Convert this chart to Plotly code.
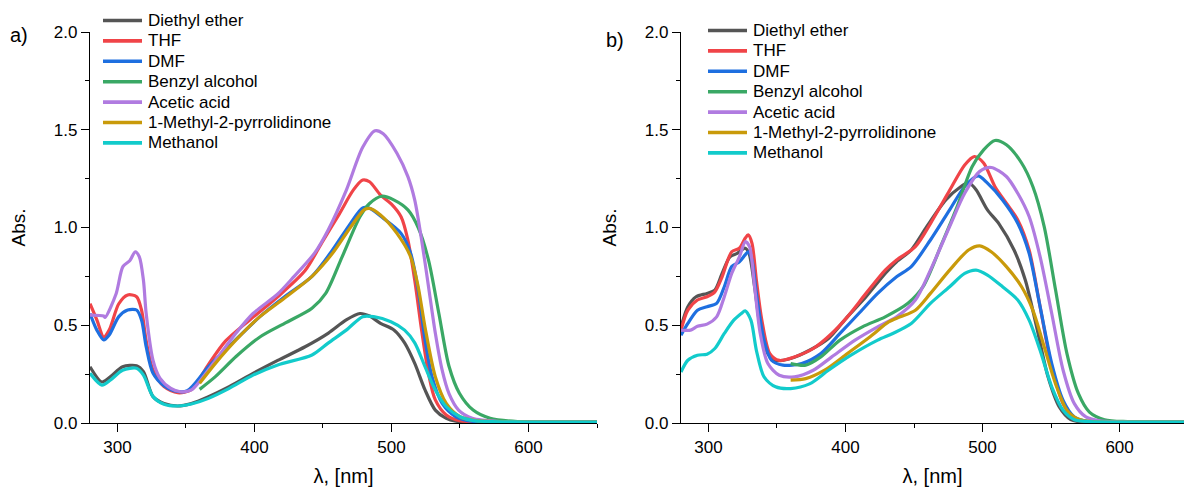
import plotly.graph_objects as go

# ---------------- data: panel a) ----------------
a_ether_x = [280, 288.7, 295, 303.8, 314, 319, 326, 334, 344, 354, 366.5, 381.6, 399, 417, 437, 454, 467, 477, 484, 492, 502, 509.6, 517, 524.5, 532, 540, 547, 560, 600, 650]
a_ether_y = [0.288, 0.21, 0.237, 0.288, 0.293, 0.263, 0.135, 0.10, 0.087, 0.10, 0.135, 0.186, 0.254, 0.32, 0.39, 0.46, 0.527, 0.56, 0.547, 0.51, 0.475, 0.41, 0.305, 0.169, 0.066, 0.024, 0.01, 0.005, 0.004, 0.004]

a_thf_x = [280, 285, 290, 294, 301, 307.5, 314, 317.6, 321, 326, 334, 344, 354, 366.5, 379, 396.6, 417, 437, 449, 462, 472, 479, 484, 492, 500, 507, 512, 517, 522, 527, 532, 540, 550, 600, 650]
a_thf_y = [0.61, 0.527, 0.44, 0.475, 0.61, 0.655, 0.646, 0.578, 0.42, 0.27, 0.186, 0.155, 0.17, 0.30, 0.42, 0.527, 0.646, 0.78, 0.92, 1.07, 1.19, 1.243, 1.234, 1.166, 1.12, 1.055, 0.936, 0.73, 0.475, 0.254, 0.118, 0.041, 0.012, 0.005, 0.005]

a_dmf_x = [280, 285, 290, 294, 301, 307.5, 314, 317.6, 321, 326, 334, 341, 351, 366.5, 384, 404, 422, 442, 457, 470, 479, 484, 494, 507, 514, 519.5, 524.5, 529.6, 537, 547, 560, 600, 650]
a_dmf_y = [0.56, 0.475, 0.425, 0.45, 0.544, 0.578, 0.578, 0.527, 0.39, 0.254, 0.19, 0.165, 0.165, 0.288, 0.41, 0.544, 0.646, 0.75, 0.885, 1.02, 1.10, 1.098, 1.047, 0.97, 0.868, 0.68, 0.425, 0.237, 0.10, 0.032, 0.008, 0.005, 0.005]

a_benzyl_x = [360, 371.5, 386.6, 404, 422, 442, 452, 464, 477, 484, 493, 502, 512, 519.5, 527, 534.6, 542, 549.6, 559.6, 572, 592, 620, 650]
a_benzyl_y = [0.172, 0.237, 0.34, 0.44, 0.51, 0.587, 0.663, 0.85, 1.055, 1.123, 1.16, 1.14, 1.09, 1.0, 0.834, 0.56, 0.29, 0.152, 0.066, 0.024, 0.007, 0.005, 0.005]

a_acetic_x = [280, 290, 291, 299, 304, 309, 313, 316, 319, 321, 326, 331, 339, 346, 354, 371.5, 386.6, 399, 417, 429, 444, 454, 467, 479, 488, 494, 504, 512, 517, 522, 527, 532, 537, 542, 549, 559, 580, 620, 650]
a_acetic_y = [0.552, 0.547, 0.54, 0.66, 0.80, 0.83, 0.876, 0.85, 0.73, 0.56, 0.32, 0.23, 0.177, 0.16, 0.169, 0.32, 0.46, 0.56, 0.66, 0.75, 0.87, 0.99, 1.19, 1.41, 1.495, 1.48, 1.38, 1.26, 1.14, 0.936, 0.70, 0.46, 0.27, 0.15, 0.066, 0.024, 0.007, 0.005, 0.005]

a_nmp_x = [360, 371.5, 386.6, 404, 421.8, 442, 457, 470, 480, 484, 492, 504, 514, 519.5, 524.5, 532, 540, 550, 562, 600, 650]
a_nmp_y = [0.203, 0.305, 0.425, 0.544, 0.638, 0.75, 0.868, 1.0, 1.09, 1.098, 1.064, 0.97, 0.85, 0.697, 0.49, 0.237, 0.10, 0.032, 0.012, 0.005, 0.005]

a_meoh_x = [280, 288.7, 295, 303.8, 314, 319, 326, 334, 344, 354, 366.5, 381.6, 399, 417, 442, 454, 467, 479, 487, 499.6, 509.6, 517, 524.5, 532, 540, 550, 560, 600, 650]
a_meoh_y = [0.254, 0.194, 0.22, 0.27, 0.28, 0.245, 0.135, 0.096, 0.087, 0.097, 0.126, 0.177, 0.245, 0.297, 0.348, 0.41, 0.475, 0.544, 0.544, 0.518, 0.475, 0.41, 0.288, 0.169, 0.083, 0.032, 0.012, 0.005, 0.005]

# ---------------- data: panel b) ----------------
b_ether_x = [280, 285, 291, 299, 304.7, 310, 315.7, 321, 326.8, 329.6, 333.7, 337.8, 343.4, 349, 360, 373.8, 387.6, 401.4, 415, 429, 437.3, 448, 459.4, 473.2, 484.3, 489.8, 495.3, 503.6, 511.9, 523, 531.2, 539.5, 547.8, 556, 564.4, 572.7, 600, 650]
b_ether_y = [0.49, 0.595, 0.646, 0.663, 0.68, 0.765, 0.85, 0.868, 0.894, 0.868, 0.697, 0.49, 0.355, 0.32, 0.33, 0.372, 0.432, 0.543, 0.646, 0.765, 0.825, 0.885, 1.005, 1.141, 1.21, 1.23, 1.193, 1.09, 1.02, 0.885, 0.731, 0.49, 0.236, 0.082, 0.017, 0.005, 0.004, 0.004]

b_thf_x = [280, 285, 292, 299, 304.7, 310, 317, 322.6, 326.8, 329, 331.8, 335, 339, 344.8, 351.7, 362.7, 376.5, 390, 401.4, 415, 429, 437.3, 451, 462, 476, 487, 494, 500.8, 509, 517.4, 525.7, 534, 542, 550.5, 558.8, 567, 578, 600, 650]
b_thf_y = [0.475, 0.577, 0.629, 0.646, 0.671, 0.748, 0.876, 0.894, 0.945, 0.962, 0.919, 0.731, 0.526, 0.355, 0.32, 0.338, 0.381, 0.458, 0.543, 0.663, 0.782, 0.834, 0.902, 1.02, 1.19, 1.32, 1.363, 1.33, 1.21, 1.124, 1.039, 0.885, 0.595, 0.287, 0.099, 0.022, 0.005, 0.004, 0.004]

b_dmf_x = [280, 285, 292, 299, 306, 311.6, 317, 322.6, 326.8, 329, 331.8, 335, 340.6, 346, 354.4, 368, 382, 396, 409.7, 423.5, 437.3, 448, 462, 476, 487, 496.7, 503.6, 514.6, 525.7, 534, 542, 550.5, 558.8, 567, 578, 600, 650]
b_dmf_y = [0.449, 0.509, 0.577, 0.595, 0.612, 0.697, 0.80, 0.825, 0.86, 0.876, 0.834, 0.663, 0.424, 0.321, 0.296, 0.304, 0.355, 0.458, 0.56, 0.663, 0.748, 0.80, 0.936, 1.09, 1.21, 1.264, 1.227, 1.141, 1.022, 0.868, 0.595, 0.304, 0.116, 0.031, 0.007, 0.005, 0.005]

b_benzyl_x = [360, 371, 382, 396, 412.4, 429, 445.6, 456.6, 470.4, 481.5, 492.5, 500.8, 509, 517.4, 528.5, 536.7, 545, 553.3, 561.6, 570, 578, 589, 605.8, 650]
b_benzyl_y = [0.304, 0.296, 0.338, 0.424, 0.492, 0.543, 0.612, 0.697, 0.919, 1.107, 1.312, 1.397, 1.445, 1.423, 1.33, 1.21, 1.005, 0.68, 0.355, 0.15, 0.056, 0.017, 0.007, 0.005]

b_acetic_x = [280, 287, 292, 299, 306, 311.6, 317, 322.6, 327, 330, 333.7, 337.8, 343.4, 351.7, 362.7, 376.5, 390, 407, 423.5, 437.3, 451, 462, 476, 487, 498, 506.3, 517.4, 525.7, 534, 542, 550.5, 558.8, 567, 575.4, 586.5, 610, 650]
b_acetic_y = [0.475, 0.475, 0.495, 0.506, 0.543, 0.646, 0.765, 0.85, 0.928, 0.902, 0.697, 0.458, 0.304, 0.244, 0.236, 0.27, 0.338, 0.424, 0.492, 0.543, 0.629, 0.782, 1.005, 1.175, 1.287, 1.307, 1.261, 1.175, 1.056, 0.851, 0.56, 0.27, 0.099, 0.031, 0.01, 0.005, 0.005]

b_nmp_x = [360, 371, 384.8, 401.4, 418, 431.8, 440, 451, 462, 476, 489.8, 498, 506.3, 517.4, 528.5, 536.7, 545, 553.3, 561.6, 570, 581, 610, 650]
b_nmp_y = [0.219, 0.227, 0.27, 0.355, 0.441, 0.518, 0.543, 0.577, 0.663, 0.782, 0.885, 0.906, 0.876, 0.80, 0.697, 0.577, 0.39, 0.20, 0.065, 0.019, 0.007, 0.005, 0.005]

b_meoh_x = [280, 285, 292, 299, 304.7, 311.6, 318.5, 324, 326.8, 331, 335, 340.6, 349, 360, 373.8, 387.6, 404, 423.5, 434.5, 448, 462, 476, 487, 495.3, 503.6, 514.6, 525.7, 534, 542, 550.5, 558.8, 567, 578, 610, 650]
b_meoh_y = [0.261, 0.321, 0.347, 0.352, 0.381, 0.458, 0.526, 0.56, 0.574, 0.526, 0.372, 0.236, 0.185, 0.176, 0.20, 0.27, 0.347, 0.424, 0.458, 0.509, 0.612, 0.697, 0.765, 0.782, 0.757, 0.697, 0.629, 0.526, 0.372, 0.185, 0.065, 0.017, 0.007, 0.005, 0.005]

names = ["Diethyl ether", "THF", "DMF", "Benzyl alcohol", "Acetic acid",
         "1-Methyl-2-pyrrolidinone", "Methanol"]
colors = ["#555555", "#F04448", "#1E6FE0", "#3AA865", "#B07BE0", "#C99A0A", "#12CBCB"]
panel_labels = ["a)", "b)"]

panel_a = [(a_ether_x, a_ether_y), (a_thf_x, a_thf_y), (a_dmf_x, a_dmf_y),
           (a_benzyl_x, a_benzyl_y), (a_acetic_x, a_acetic_y),
           (a_nmp_x, a_nmp_y), (a_meoh_x, a_meoh_y)]
panel_b = [(b_ether_x, b_ether_y), (b_thf_x, b_thf_y), (b_dmf_x, b_dmf_y),
           (b_benzyl_x, b_benzyl_y), (b_acetic_x, b_acetic_y),
           (b_nmp_x, b_nmp_y), (b_meoh_x, b_meoh_y)]

FONT = "Liberation Sans, Arial, sans-serif"
W, H = 1184, 489
TOP, BOT = 32, 66
PH = H - TOP - BOT


def py(pix):
    """pixel row -> paper y"""
    return (H - BOT - pix) / PH


fig = go.Figure()
for (x, y), n, c in zip(panel_a, names, colors):
    fig.add_trace(go.Scatter(x=x, y=y, name=n, mode="lines", showlegend=False,
                             line=dict(color=c, width=3.2, shape="spline", smoothing=0.8),
                             xaxis="x", yaxis="y"))
for (x, y), n, c in zip(panel_b, names, colors):
    fig.add_trace(go.Scatter(x=x, y=y, name=n, mode="lines", showlegend=False,
                             line=dict(color=c, width=3.2, shape="spline", smoothing=0.8),
                             xaxis="x2", yaxis="y2"))

axis_common = dict(showline=True, linecolor="black", linewidth=1.3, ticks="outside",
                   ticklen=8, tickwidth=1.3, tickcolor="black", showgrid=False,
                   zeroline=False, tickfont=dict(family=FONT, size=17, color="black"),
                   mirror=False)

xcommon = dict(axis_common, range=[280, 650], dtick=100, tick0=0,
               minor=dict(dtick=50, ticks="outside", ticklen=4, tickcolor="black", tickwidth=1.3),
               title=dict(text="λ, [nm]", font=dict(family=FONT, size=20, color="black"), standoff=13))
ycommon = dict(axis_common, range=[0, 2.0], dtick=0.5, tick0=0, tickformat=".1f",
               minor=dict(dtick=0.25, ticks="outside", ticklen=4, tickcolor="black", tickwidth=1.3),
               title=dict(text="Abs.", font=dict(family=FONT, size=19, color="black"), standoff=23))

# manual legends (line sample + label), one per panel
legend_specs = [  # (line x0 px, line x1 px, text x px, first row y px)
    (103, 142, 146, 20.5),
    (708, 747, 751, 30.5),
]
ROW = 20.4
shapes, annotations = [], []
for (lx0, lx1, tx, y0) in legend_specs:
    for i, (n, c) in enumerate(zip(names, colors)):
        yy = py(y0 + i * ROW)
        shapes.append(dict(type="line", xref="paper", yref="paper",
                           x0=lx0 / W, x1=lx1 / W, y0=yy, y1=yy,
                           line=dict(color=c, width=3.6)))
        annotations.append(dict(text=n, xref="paper", yref="paper", x=tx / W, y=yy,
                                xanchor="left", yanchor="middle", showarrow=False,
                                font=dict(family=FONT, size=17, color="black")))

for lab, lx, ly in zip(panel_labels, [8, 604], [34.5, 40]):
    annotations.append(dict(text=lab, xref="paper", yref="paper", x=lx / W, y=py(ly),
                            xanchor="left", yanchor="middle", showarrow=False,
                            font=dict(family=FONT, size=20, color="black")))

fig.update_layout(
    width=W, height=H,
    margin=dict(l=0, r=0, t=TOP, b=BOT),
    paper_bgcolor="white", plot_bgcolor="white",
    font=dict(family=FONT, color="black"),
    showlegend=False,
    xaxis=dict(xcommon, domain=[90 / W, 597 / W], anchor="y"),
    yaxis=dict(ycommon, domain=[0, 1], anchor="x"),
    xaxis2=dict(xcommon, range=[280, 647], domain=[681 / W, 1.0], anchor="y2"),
    yaxis2=dict(ycommon, domain=[0, 1], anchor="x2"),
    shapes=shapes,
    annotations=annotations,
)

fig.write_html("out.html")
